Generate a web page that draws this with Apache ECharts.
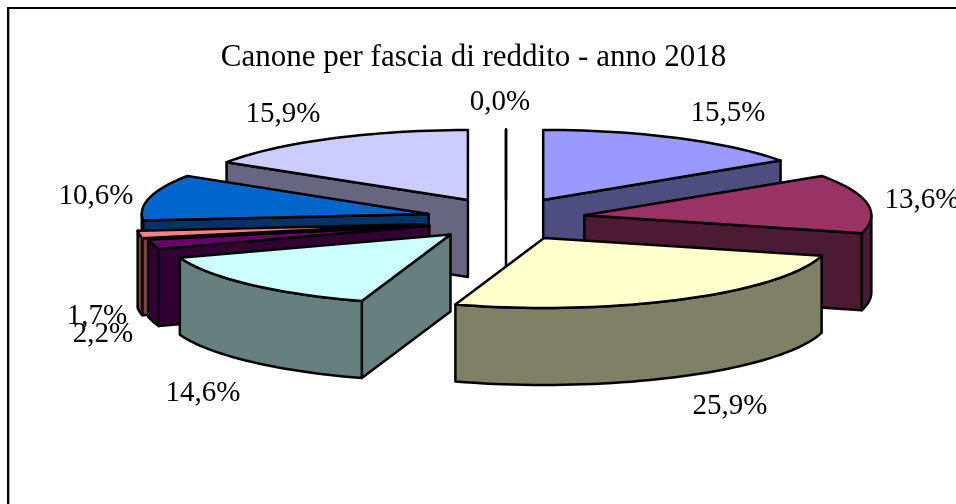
<!DOCTYPE html>
<html>
<head>
<meta charset="utf-8">
<style>html,body{margin:0;padding:0;background:#fff}#chart{width:956px;height:504px}</style>
<script src="https://cdn.jsdelivr.net/npm/echarts@6/dist/echarts.min.js"></script>
</head>
<body>
<div id="chart"></div>
<script>
const titleText = 'Canone per fascia di reddito - anno 2018'
// share of each slice, clockwise from 12 o'clock
const shares = [0.0, 15.5, 13.6, 25.9, 14.6, 2.2, 1.7, 10.6, 15.9]
const shareLabels = ['0,0%', '15,5%', '13,6%', '25,9%', '14,6%', '2,2%', '1,7%', '10,6%', '15,9%']

const topColors = ['#ffffff', '#9999ff', '#993366', '#ffffcc', '#ccffff', '#660066', '#ff8080', '#0066cc', '#ccccff']
const sideColors = ['#808080', '#4d4d80', '#4d1a33', '#808066', '#668080', '#330033', '#804040', '#003366', '#666680']
// painter's order, back to front
const drawOrder = [0, 1, 8, 2, 7, 6, 5, 3, 4]
const labelPos = [[500, 102], [728, 113], [922, 200], [730, 406], [203, 393], [103, 334], [97, 316], [96, 196], [283, 114]]
// the two thin slices were dragged a little away from the regular explosion
const nudge = [[0, 2], [0, 0], [0, 0], [0, 0], [0, 0], [0, 1], [-4, 2], [0, 0], [0, 0]]

const cx = 506, cy = 219
const rx = 287, ry = 70
const explodeX = 79.5, explodeY = 21.6
const depth = 77
const fontFamily = '"Liberation Serif", "Times New Roman", serif'
const fontSize = 29
const titleSize = 31

const total = shares.reduce((a, b) => a + b, 0)
const rad = d => d * Math.PI / 180

function sliceGeometry(i) {
  const before = shares.slice(0, i).reduce((a, b) => a + b, 0)
  const start = before / total * 360
  const end = (before + shares[i]) / total * 360
  const mid = rad((start + end) / 2)
  return {
    start,
    end,
    x: cx + explodeX * Math.sin(mid) + nudge[i][0],
    y: cy - explodeY * Math.cos(mid) + nudge[i][1]
  }
}

function renderSlice(params, api) {
  const i = api.value(0)
  const g = sliceGeometry(i)
  const rim = d => [g.x + rx * Math.sin(rad(d)), g.y - ry * Math.cos(rad(d))]
  const down = p => [p[0], p[1] + depth]
  const apex = [g.x, g.y]
  const poly = (points, fill) => ({
    type: 'polygon',
    shape: { points },
    style: { fill, stroke: '#000', lineWidth: 2.5, lineJoin: 'round' }
  })
  const arc = (a, b) => {
    const pts = []
    const n = Math.max(1, Math.ceil((b - a) / 2))
    for (let k = 0; k <= n; k++) pts.push(rim(a + (b - a) * k / n))
    return pts
  }
  const children = []
  const wall = d => poly([apex, rim(d), down(rim(d)), down(apex)], sideColors[i])

  // cut faces that look towards the viewer
  if (Math.sin(rad(g.start)) < 0) children.push(wall(g.start))
  if (Math.sin(rad(g.end)) >= 0) children.push(wall(g.end))

  // outer rim, front half of the ellipse only
  const a = Math.max(g.start, 90), b = Math.min(g.end, 270)
  if (b > a) {
    const edge = arc(a, b)
    children.push(poly(edge.concat(edge.map(down).reverse()), sideColors[i]))
  }

  children.push(poly([apex].concat(arc(g.start, g.end)), topColors[i]))

  return { type: 'group', children }
}

const chart = echarts.init(document.getElementById('chart'), null, { renderer: 'canvas' })
chart.setOption({
  animation: false,
  backgroundColor: '#fff',
  title: {
    text: titleText,
    left: 468.5,
    top: 37,
    textAlign: 'center',
    textStyle: { fontFamily, fontSize: titleSize, fontWeight: 'normal', color: '#000' }
  },
  graphic: [
    { type: 'line', shape: { x1: 9.5, y1: 8, x2: 9.5, y2: 504 }, style: { stroke: '#aaa', lineWidth: 1 } },
    { type: 'line', shape: { x1: 8, y1: 8, x2: 8, y2: 504 }, style: { stroke: '#000', lineWidth: 2 } },
    { type: 'line', shape: { x1: 7, y1: 8, x2: 956, y2: 8 }, style: { stroke: '#000', lineWidth: 2 } }
  ].concat(shareLabels.map((text, i) => ({
    type: 'text',
    z: 10,
    x: labelPos[i][0],
    y: labelPos[i][1],
    style: { text, fontFamily, fontSize, fill: '#000', align: 'center', verticalAlign: 'middle' }
  }))),
  series: [{
    type: 'custom',
    coordinateSystem: 'none',
    renderItem: renderSlice,
    data: drawOrder.map(i => [i])
  }]
})
</script>
</body>
</html>
